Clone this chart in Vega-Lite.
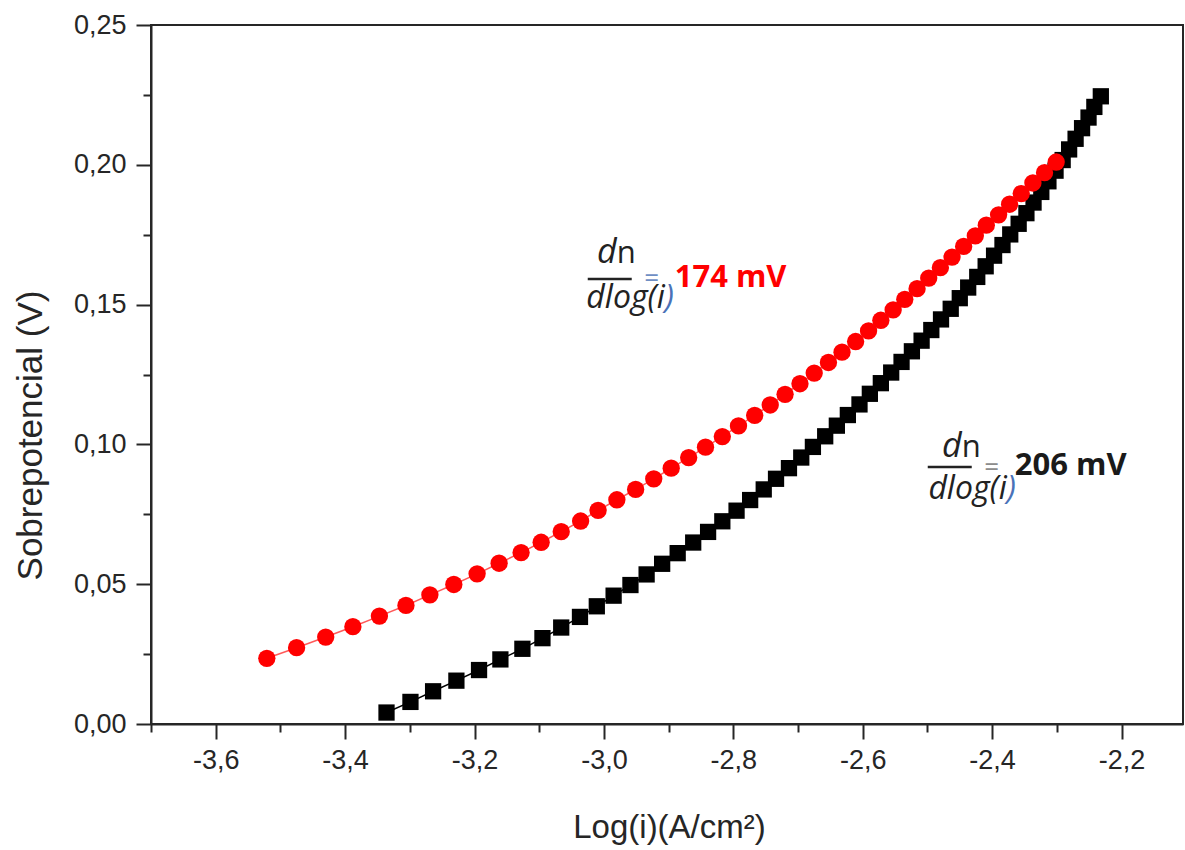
{
  "$schema": "https://vega.github.io/schema/vega-lite/v6.json",
  "width": 1032,
  "height": 699,
  "autosize": "none",
  "padding": {"left": 151, "top": 25, "right": 2, "bottom": 126},
  "background": "white",
  "datasets": {
    "preto": [
      {"x": -3.336, "y": 0.0041}, {"x": -3.299, "y": 0.0079}, {"x": -3.264, "y": 0.0117}, {"x": -3.228, "y": 0.0155},
      {"x": -3.193, "y": 0.0193}, {"x": -3.160, "y": 0.0231}, {"x": -3.126, "y": 0.0269}, {"x": -3.095, "y": 0.0307},
      {"x": -3.066, "y": 0.0345}, {"x": -3.037, "y": 0.0383}, {"x": -3.011, "y": 0.0421}, {"x": -2.985, "y": 0.0459},
      {"x": -2.959, "y": 0.0497}, {"x": -2.934, "y": 0.0535}, {"x": -2.910, "y": 0.0573}, {"x": -2.886, "y": 0.0611},
      {"x": -2.862, "y": 0.0649}, {"x": -2.839, "y": 0.0687}, {"x": -2.817, "y": 0.0725}, {"x": -2.795, "y": 0.0763},
      {"x": -2.774, "y": 0.0801}, {"x": -2.753, "y": 0.0839}, {"x": -2.734, "y": 0.0877}, {"x": -2.714, "y": 0.0915},
      {"x": -2.695, "y": 0.0953}, {"x": -2.677, "y": 0.0991}, {"x": -2.658, "y": 0.1029}, {"x": -2.640, "y": 0.1067},
      {"x": -2.623, "y": 0.1105}, {"x": -2.605, "y": 0.1143}, {"x": -2.589, "y": 0.1181}, {"x": -2.572, "y": 0.1219},
      {"x": -2.556, "y": 0.1257}, {"x": -2.540, "y": 0.1295}, {"x": -2.524, "y": 0.1333}, {"x": -2.509, "y": 0.1371},
      {"x": -2.494, "y": 0.1409}, {"x": -2.479, "y": 0.1447}, {"x": -2.464, "y": 0.1485}, {"x": -2.450, "y": 0.1523},
      {"x": -2.437, "y": 0.1561}, {"x": -2.423, "y": 0.1599}, {"x": -2.410, "y": 0.1637}, {"x": -2.397, "y": 0.1675},
      {"x": -2.384, "y": 0.1713}, {"x": -2.372, "y": 0.1751}, {"x": -2.359, "y": 0.1789}, {"x": -2.347, "y": 0.1827},
      {"x": -2.336, "y": 0.1865}, {"x": -2.324, "y": 0.1903}, {"x": -2.313, "y": 0.1941}, {"x": -2.302, "y": 0.1979},
      {"x": -2.291, "y": 0.2017}, {"x": -2.281, "y": 0.2055}, {"x": -2.271, "y": 0.2093}, {"x": -2.261, "y": 0.2131},
      {"x": -2.251, "y": 0.2169}, {"x": -2.242, "y": 0.2207}, {"x": -2.232, "y": 0.2245}
    ],
    "vermelho": [
      {"x": -3.521, "y": 0.0235}, {"x": -3.475, "y": 0.0273}, {"x": -3.430, "y": 0.0311}, {"x": -3.388, "y": 0.0348},
      {"x": -3.347, "y": 0.0386}, {"x": -3.306, "y": 0.0424}, {"x": -3.269, "y": 0.0462}, {"x": -3.232, "y": 0.0499},
      {"x": -3.196, "y": 0.0537}, {"x": -3.162, "y": 0.0575}, {"x": -3.128, "y": 0.0613}, {"x": -3.097, "y": 0.0650},
      {"x": -3.066, "y": 0.0688}, {"x": -3.036, "y": 0.0726}, {"x": -3.009, "y": 0.0764}, {"x": -2.980, "y": 0.0802},
      {"x": -2.951, "y": 0.0839}, {"x": -2.923, "y": 0.0877}, {"x": -2.896, "y": 0.0915}, {"x": -2.869, "y": 0.0953},
      {"x": -2.843, "y": 0.0990}, {"x": -2.817, "y": 0.1028}, {"x": -2.792, "y": 0.1066}, {"x": -2.767, "y": 0.1104},
      {"x": -2.743, "y": 0.1141}, {"x": -2.720, "y": 0.1179}, {"x": -2.697, "y": 0.1217}, {"x": -2.675, "y": 0.1255},
      {"x": -2.653, "y": 0.1293}, {"x": -2.632, "y": 0.1330}, {"x": -2.611, "y": 0.1368}, {"x": -2.591, "y": 0.1406},
      {"x": -2.572, "y": 0.1444}, {"x": -2.553, "y": 0.1481}, {"x": -2.535, "y": 0.1519}, {"x": -2.516, "y": 0.1557},
      {"x": -2.498, "y": 0.1595}, {"x": -2.480, "y": 0.1632}, {"x": -2.462, "y": 0.1670}, {"x": -2.444, "y": 0.1708},
      {"x": -2.426, "y": 0.1746}, {"x": -2.409, "y": 0.1784}, {"x": -2.390, "y": 0.1821}, {"x": -2.373, "y": 0.1859},
      {"x": -2.355, "y": 0.1897}, {"x": -2.337, "y": 0.1935}, {"x": -2.319, "y": 0.1972}, {"x": -2.301, "y": 0.2010}
    ]
  },
  "config": {
    "view": {"stroke": "#262626", "strokeWidth": 2},
    "axis": {
      "domainColor": "#262626",
      "domainWidth": 2,
      "tickColor": "#262626",
      "tickWidth": 2,
      "grid": false,
      "labelFont": "Liberation Sans",
      "labelFontSize": 27,
      "labelColor": "#262626",
      "labelOverlap": false,
      "titleFont": "Liberation Sans",
      "titleFontWeight": "normal",
      "titleColor": "#262626"
    }
  },
  "layer": [
    {
      "data": {"name": "preto"},
      "mark": {"type": "line", "color": "#000000", "strokeWidth": 1.5},
      "encoding": {
        "x": {
          "field": "x",
          "type": "quantitative",
          "scale": {"domain": [-3.7, -2.105], "nice": false, "zero": false},
          "axis": {
            "title": "Log(i)(A/cm²)",
            "titleFontSize": 33,
            "titleX": 518,
            "titleY": 113,
            "titleAlign": "center",
            "titleBaseline": "alphabetic",
            "values": [-3.7, -3.6, -3.5, -3.4, -3.3, -3.2, -3.1, -3.0, -2.9, -2.8, -2.7, -2.6, -2.5, -2.4, -2.3, -2.2],
            "tickSize": {"condition": {"test": "abs(datum.value * 5 - round(datum.value * 5)) > 0.001", "value": 8}, "value": 15},
            "labelPadding": 8,
            "labelExpr": "abs(datum.value * 5 - round(datum.value * 5)) > 0.001 ? '' : replace(replace(format(datum.value, '.1f'), '.', ','), '\u2212', '-')"
          }
        },
        "y": {
          "field": "y",
          "type": "quantitative",
          "scale": {"domain": [0, 0.25], "nice": false, "zero": false},
          "axis": {
            "title": "Sobrepotencial (V)",
            "titleFontSize": 35,
            "titleX": -110,
            "titleY": 410,
            "titleAngle": 270,
            "titleAlign": "center",
            "titleBaseline": "alphabetic",
            "values": [0, 0.025, 0.05, 0.075, 0.1, 0.125, 0.15, 0.175, 0.2, 0.225, 0.25],
            "tickSize": {"condition": {"test": "abs(datum.value * 20 - round(datum.value * 20)) > 0.001", "value": 8}, "value": 15},
            "labelPadding": 10,
            "labelExpr": "abs(datum.value * 20 - round(datum.value * 20)) > 0.001 ? '' : replace(format(datum.value, '.2f'), '.', ',')"
          }
        }
      }
    },
    {"data": {"name": "preto"}, "mark": {"type": "point", "shape": "square", "filled": true, "color": "#000000", "opacity": 1, "size": 265},
     "encoding": {"x": {"field": "x", "type": "quantitative"}, "y": {"field": "y", "type": "quantitative"}}},
    {"data": {"name": "vermelho"}, "mark": {"type": "line", "color": "#ff3030", "strokeWidth": 1.5, "opacity": 0.8},
     "encoding": {"x": {"field": "x", "type": "quantitative"}, "y": {"field": "y", "type": "quantitative"}}},
    {"data": {"name": "vermelho"}, "mark": {"type": "point", "shape": "circle", "filled": true, "color": "#ff0000", "opacity": 1, "size": 300},
     "encoding": {"x": {"field": "x", "type": "quantitative"}, "y": {"field": "y", "type": "quantitative"}}},

    {"data": {"values": [{"t": "d"}]}, "mark": {"type": "text", "align": "right", "baseline": "alphabetic", "font": "Open Sans", "fontStyle": "italic", "fontSize": 34, "color": "#222222"},
     "encoding": {"x": {"datum": -2.9802}, "y": {"datum": 0.1649}, "text": {"field": "t"}}},
    {"data": {"values": [{"t": "n"}]}, "mark": {"type": "text", "align": "left", "baseline": "alphabetic", "font": "Open Sans", "fontSize": 31, "color": "#222222"},
     "encoding": {"x": {"datum": -2.9802}, "y": {"datum": 0.1649}, "text": {"field": "t"}}},
    {"data": {"values": [{}]}, "mark": {"type": "rule", "color": "#222222", "strokeWidth": 2.5},
     "encoding": {"x": {"datum": -3.025}, "x2": {"datum": -2.957}, "y": {"datum": 0.15916}}},
    {"data": {"values": [{"t": "dlog(i"}]}, "mark": {"type": "text", "align": "right", "baseline": "alphabetic", "font": "Open Sans", "fontStyle": "italic", "fontSize": 32, "color": "#222222"},
     "encoding": {"x": {"datum": -2.906}, "y": {"datum": 0.1488}, "text": {"field": "t"}}},
    {"data": {"values": [{"t": ")"}]}, "mark": {"type": "text", "align": "left", "baseline": "alphabetic", "font": "Open Sans", "fontStyle": "italic", "fontSize": 32, "color": "#4a72b8"},
     "encoding": {"x": {"datum": -2.906}, "y": {"datum": 0.1488}, "text": {"field": "t"}}},
    {"data": {"values": [{"t": "="}]}, "mark": {"type": "text", "align": "center", "baseline": "middle", "font": "Open Sans", "fontSize": 26, "color": "#6f8fc4"},
     "encoding": {"x": {"datum": -2.9262}, "y": {"datum": 0.1592}, "text": {"field": "t"}}},
    {"data": {"values": [{"t": "174 mV"}]}, "mark": {"type": "text", "align": "left", "baseline": "alphabetic", "font": "Open Sans", "fontWeight": "bold", "fontSize": 31, "color": "#ff0000"},
     "encoding": {"x": {"datum": -2.8906}, "y": {"datum": 0.15629}, "text": {"field": "t"}}},

    {"data": {"values": [{"t": "d"}]}, "mark": {"type": "text", "align": "right", "baseline": "alphabetic", "font": "Open Sans", "fontStyle": "italic", "fontSize": 34, "color": "#222222"},
     "encoding": {"x": {"datum": -2.447}, "y": {"datum": 0.09549}, "text": {"field": "t"}}},
    {"data": {"values": [{"t": "n"}]}, "mark": {"type": "text", "align": "left", "baseline": "alphabetic", "font": "Open Sans", "fontSize": 31, "color": "#222222"},
     "encoding": {"x": {"datum": -2.447}, "y": {"datum": 0.09549}, "text": {"field": "t"}}},
    {"data": {"values": [{}]}, "mark": {"type": "rule", "color": "#222222", "strokeWidth": 2.5},
     "encoding": {"x": {"datum": -2.4995}, "x2": {"datum": -2.4315}, "y": {"datum": 0.09192}}},
    {"data": {"values": [{"t": "dlog(i"}]}, "mark": {"type": "text", "align": "right", "baseline": "alphabetic", "font": "Open Sans", "fontStyle": "italic", "fontSize": 32, "color": "#222222"},
     "encoding": {"x": {"datum": -2.3774}, "y": {"datum": 0.0805}, "text": {"field": "t"}}},
    {"data": {"values": [{"t": ")"}]}, "mark": {"type": "text", "align": "left", "baseline": "alphabetic", "font": "Open Sans", "fontStyle": "italic", "fontSize": 32, "color": "#4a72b8"},
     "encoding": {"x": {"datum": -2.3774}, "y": {"datum": 0.0805}, "text": {"field": "t"}}},
    {"data": {"values": [{"t": "="}]}, "mark": {"type": "text", "align": "center", "baseline": "middle", "font": "Open Sans", "fontSize": 26, "color": "#8c8c8c"},
     "encoding": {"x": {"datum": -2.4007}, "y": {"datum": 0.0917}, "text": {"field": "t"}}},
    {"data": {"values": [{"t": "206 mV"}]}, "mark": {"type": "text", "align": "left", "baseline": "alphabetic", "font": "Open Sans", "fontWeight": "bold", "fontSize": 31, "color": "#1a1a1a"},
     "encoding": {"x": {"datum": -2.3651}, "y": {"datum": 0.08906}, "text": {"field": "t"}}}
  ]
}
